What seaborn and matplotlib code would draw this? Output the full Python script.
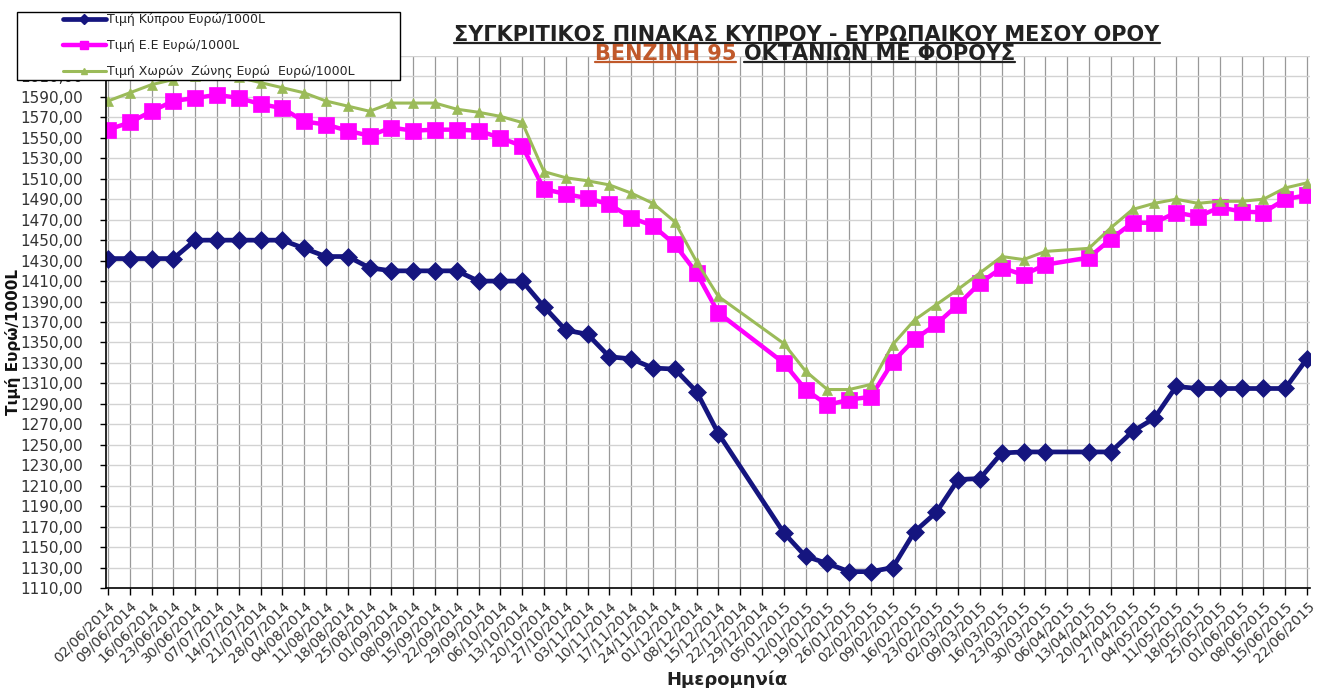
import numpy as np
import pandas as pd
import seaborn as sns
import matplotlib
matplotlib.use('Agg')
import matplotlib.pyplot as plt
from matplotlib.patches import Rectangle
from matplotlib.lines import Line2D
from matplotlib.ticker import FuncFormatter

nan = np.nan

dates = ["02/06/2014", "09/06/2014", "16/06/2014", "23/06/2014", "30/06/2014",
         "07/07/2014", "14/07/2014", "21/07/2014", "28/07/2014", "04/08/2014",
         "11/08/2014", "18/08/2014", "25/08/2014", "01/09/2014", "08/09/2014",
         "15/09/2014", "22/09/2014", "29/09/2014", "06/10/2014", "13/10/2014",
         "20/10/2014", "27/10/2014", "03/11/2014", "10/11/2014", "17/11/2014",
         "24/11/2014", "01/12/2014", "08/12/2014", "15/12/2014", "22/12/2014",
         "29/12/2014", "05/01/2015", "12/01/2015", "19/01/2015", "26/01/2015",
         "02/02/2015", "09/02/2015", "16/02/2015", "23/02/2015", "02/03/2015",
         "09/03/2015", "16/03/2015", "23/03/2015", "30/03/2015", "06/04/2015",
         "13/04/2015", "20/04/2015", "27/04/2015", "04/05/2015", "11/05/2015",
         "18/05/2015", "25/05/2015", "01/06/2015", "08/06/2015", "15/06/2015",
         "22/06/2015"]

# Τιμή Κύπρου
cyprus = [1432, 1432, 1432, 1432, 1450, 1450, 1450, 1450, 1450, 1442,
          1434, 1434, 1423, 1420, 1420, 1420, 1420, 1410, 1410, 1410,
          1385, 1362, 1358, 1336, 1334, 1325, 1324, 1302, 1261, nan,
          nan, 1164, 1141, 1134, 1126, 1126, 1130, 1165, 1184, 1216,
          1217, 1242, 1243, 1243, nan, 1243, 1243, 1263, 1276, 1307,
          1305, 1305, 1305, 1305, 1305, 1334]
# Τιμή Ε.Ε
eu = [1558, 1565, 1576, 1586, 1589, 1592, 1589, 1583, 1579, 1566,
      1563, 1557, 1552, 1560, 1557, 1558, 1558, 1557, 1550, 1542,
      1500, 1495, 1491, 1485, 1472, 1464, 1446, 1418, 1379, nan,
      nan, 1330, 1304, 1289, 1294, 1297, 1331, 1353, 1368, 1387,
      1408, 1423, 1416, 1426, nan, 1433, 1451, 1467, 1467, 1477,
      1473, 1482, 1478, 1477, 1490, 1494]
# Τιμή Χωρών Ζώνης Ευρώ
eurozone = [1586, 1594, 1602, 1607, 1610, 1612, 1609, 1604, 1599, 1594,
            1586, 1581, 1576, 1584, 1584, 1584, 1578, 1575, 1571, 1565,
            1517, 1511, 1508, 1504, 1496, 1486, 1468, 1429, 1395, nan,
            nan, 1349, 1322, 1304, 1304, 1309, 1348, 1372, 1387, 1402,
            1418, 1434, 1431, 1439, nan, 1442, 1462, 1480, 1486, 1490,
            1486, 1488, 1488, 1490, 1501, 1506]

series_names = ["Τιμή Κύπρου Ευρώ/1000L", "Τιμή Ε.Ε Ευρώ/1000L",
                "Τιμή Χωρών  Ζώνης Ευρώ  Ευρώ/1000L"]

df = pd.DataFrame({'idx': range(len(dates)), series_names[0]: cyprus,
                   series_names[1]: eu, series_names[2]: eurozone})
df = df.melt(id_vars='idx', var_name='series', value_name='price').dropna()

sns.set_style('white')
plt.rcParams['font.family'] = ['DejaVu Sans']

W, H = 1320, 688
fig = plt.figure(figsize=(W / 100, H / 100), dpi=100)
ax = fig.add_axes([106 / W, 1 - 588 / H, (1310 - 106) / W, (588 - 56) / H])

styles = {
    series_names[0]: dict(color='#15157f', marker='D', markersize=9, linewidth=3.4),
    series_names[1]: dict(color='#ff00ff', marker='s', markersize=11, linewidth=3.2),
    series_names[2]: dict(color='#9bbb59', marker='^', markersize=7, linewidth=2.2),
}
for name in series_names:
    st = styles[name]
    sns.lineplot(data=df[df['series'] == name], x='idx', y='price', ax=ax,
                 markeredgecolor=st['color'], markeredgewidth=0.5, legend=False, **st)

ax.set_xlim(-0.09, len(dates) - 1 + 0.14)
ax.set_ylim(1110, 1630)
ax.set_xticks(range(len(dates)))
ax.set_xticklabels(dates, rotation=45, ha='right', rotation_mode='anchor',
                   fontsize=10, color='#333333')
ax.set_yticks(np.arange(1110, 1631, 20))
ax.yaxis.set_major_formatter(FuncFormatter(lambda v, _: f"{v:.2f}".replace('.', ',')))
ax.tick_params(axis='y', labelsize=11, labelcolor='#333333', length=4.5, width=1,
               color='black', direction='out', pad=12, left=True)
ax.tick_params(axis='x', length=5, width=1, color='black', direction='out', pad=3, bottom=True)

ax.set_axisbelow(True)
ax.xaxis.grid(True, color='#999999', linewidth=0.9)
ax.yaxis.grid(True, color='#d2d2d2', linewidth=1)
for s in ['top', 'right']:
    ax.spines[s].set_visible(False)
for s in ['left', 'bottom']:
    ax.spines[s].set_color('black')
    ax.spines[s].set_linewidth(1.2)

ax.set_ylabel("Τιμή Ευρώ/1000L", fontsize=11, fontweight='bold', color='#111111')
ax.yaxis.set_label_coords(-0.0705, 0.462)
ax.set_xlabel("Ημερομηνία", fontsize=13, fontweight='bold', color='#222222')
ax.xaxis.set_label_coords(0.516, -0.155)

# legend box
fig.add_artist(Rectangle((17 / W, 1 - 80 / H), 383 / W, 68 / H, transform=fig.transFigure,
                         facecolor='white', edgecolor='black', linewidth=1, zorder=3))
handles = [Line2D([], [], color=styles[n]['color'], marker=styles[n]['marker'],
                  markersize=styles[n]['markersize'] * 0.55, linewidth=styles[n]['linewidth'])
           for n in series_names]
fig.legend(handles, series_names, loc='upper left', bbox_to_anchor=(63 / W, 1 - 13 / H),
           frameon=False, fontsize=9, handlelength=3.4, handletextpad=0.15,
           labelspacing=1.05, borderpad=0, borderaxespad=0)

# title with underline
tsize = 15
t1 = fig.text(807 / W, 1 - 41 / H, "ΣΥΓΚΡΙΤΙΚΟΣ ΠΙΝΑΚΑΣ ΚΥΠΡΟΥ - ΕΥΡΩΠΑΙΚΟΥ ΜΕΣΟΥ ΟΡΟΥ",
              ha='center', va='baseline', fontsize=tsize, fontweight='bold', color='#222222')
t2a = fig.text(0, 1 - 60 / H, "ΒΕΝΖΙΝΗ 95", ha='left', va='baseline', fontsize=tsize,
               fontweight='bold', color='#c0592b')
t2b = fig.text(0, 1 - 60 / H, "ΟΚΤΑΝΙΩΝ ΜΕ ΦΟΡΟΥΣ", ha='left', va='baseline', fontsize=tsize,
               fontweight='bold', color='#222222')
fig.canvas.draw()
r = fig.canvas.get_renderer()
gap = 8
wa = t2a.get_window_extent(r).width
wb = t2b.get_window_extent(r).width
x0 = 805 - (wa + gap + wb) / 2
t2a.set_x(x0 / W)
t2b.set_x((x0 + wa + gap) / W)
fig.canvas.draw()
for t, col in [(t1, '#222222'), (t2a, '#c0592b'), (t2b, '#222222')]:
    bb = t.get_window_extent(r)
    y = bb.y0 + 2
    fig.add_artist(Line2D([bb.x0 / W, bb.x1 / W], [y / H, y / H], transform=fig.transFigure,
                          color=col, linewidth=1.6))

fig.savefig('out.png', dpi=100)
